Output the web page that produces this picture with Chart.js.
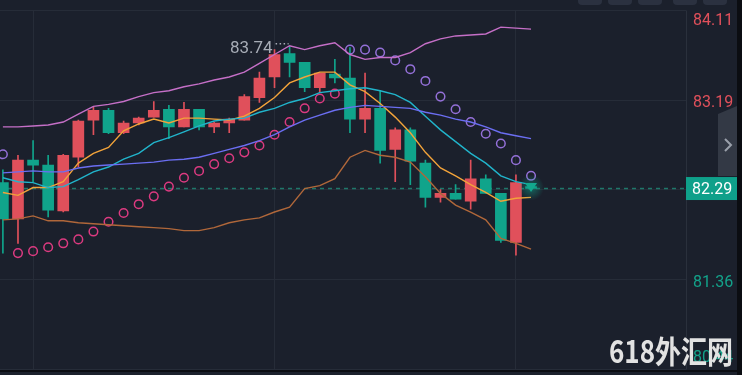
<!DOCTYPE html>
<html>
<head>
<meta charset="utf-8">
<script src="https://cdn.jsdelivr.net/npm/chart.js@4.4.1/dist/chart.umd.min.js"></script>
<style>
html, body { margin: 0; padding: 0; background: #1b202c; overflow: hidden; }
#wrap { position: relative; width: 742px; height: 375px; }
</style>
</head>
<body>
<div id="wrap"><canvas id="kChart" width="742" height="375"></canvas></div>
<script>
// candles (red = up, green = down)
const opens  = [82.35,81.98,82.58,82.53,82.06,82.61,82.99,83.09,82.86,82.96,83.02,83.10,82.92,83.10,82.92,82.96,82.99,83.22,83.43,83.67,83.58,83.32,83.46,83.42,83.00,83.11,82.69,82.89,82.55,82.20,82.24,82.16,82.39,82.24,81.74,82.31];
const highs  = [82.48,82.63,82.78,82.63,82.64,82.99,83.12,83.11,82.98,83.02,83.18,83.14,83.17,83.10,82.97,83.01,83.25,83.48,83.71,83.74,83.58,83.47,83.61,83.73,83.47,83.29,82.91,82.91,82.58,82.28,82.33,82.58,82.43,82.24,82.43,82.33];
const lows   = [81.63,81.73,82.36,82.00,82.05,82.51,82.84,82.85,82.85,82.94,83.02,82.80,82.92,82.89,82.86,82.86,82.99,83.17,83.32,83.43,83.28,83.27,83.37,82.86,82.86,82.55,82.36,82.33,82.10,82.15,82.18,82.08,82.24,81.74,81.61,82.28];
const closes = [81.98,82.58,82.53,82.07,82.63,82.98,83.09,82.86,82.96,83.01,83.09,82.92,83.10,82.92,82.96,83.00,83.23,83.42,83.66,83.58,83.32,83.47,83.42,83.00,83.11,82.68,82.89,82.57,82.20,82.24,82.18,82.39,82.24,81.76,82.35,82.29];

// indicator lines
const bollUpper = [82.92,82.92,82.93,82.94,82.97,83.05,83.13,83.15,83.18,83.23,83.27,83.29,83.33,83.36,83.40,83.43,83.48,83.57,83.66,83.75,83.71,83.75,83.78,83.66,83.61,83.63,83.63,83.68,83.77,83.82,83.85,83.86,83.87,83.94,83.93,83.92];
const bollLower = [81.97,81.98,82.01,81.96,81.96,81.94,81.93,81.92,81.91,81.90,81.89,81.88,81.86,81.86,81.89,81.94,81.97,81.99,82.05,82.10,82.29,82.32,82.39,82.61,82.68,82.63,82.61,82.56,82.41,82.24,82.12,82.05,81.97,81.78,81.73,81.67];
const maBlue    = [82.45,82.46,82.47,82.46,82.46,82.50,82.52,82.53,82.54,82.55,82.56,82.58,82.59,82.61,82.65,82.69,82.73,82.78,82.84,82.92,82.99,83.04,83.09,83.12,83.14,83.13,83.12,83.11,83.07,83.04,83.00,82.97,82.92,82.86,82.83,82.80];
const maCyan    = [82.40,82.36,82.35,82.30,82.31,82.38,82.46,82.51,82.59,82.65,82.76,82.81,82.87,82.93,82.98,83.00,83.01,83.07,83.11,83.17,83.21,83.27,83.29,83.31,83.32,83.29,83.25,83.17,83.03,82.89,82.77,82.65,82.55,82.42,82.36,82.33];
const maOrange  = [82.25,82.22,82.30,82.30,82.36,82.55,82.65,82.71,82.88,82.95,83.00,82.96,83.01,83.01,83.00,82.99,83.03,83.11,83.22,83.37,83.43,83.48,83.48,83.35,83.28,83.16,83.02,82.86,82.66,82.50,82.42,82.33,82.25,82.16,82.19,82.20];

// parabolic SAR
const sarBelow = [null,81.63,81.65,81.69,81.73,81.77,81.85,81.95,82.04,82.13,82.21,82.31,82.40,82.47,82.54,82.60,82.66,82.73,82.84,82.97,83.11,83.21,83.26,null,null,null,null,null,null,null,null,null,null,null,null,null];
const sarAbove = [82.64,null,null,null,null,null,null,null,null,null,null,null,null,null,null,null,null,null,null,null,null,null,null,83.71,83.71,83.68,83.60,83.51,83.39,83.23,83.10,82.97,82.85,82.75,82.58,82.42];

// price axis
const yTicks = [84.11, 83.1925, 82.275, 81.3575, 80.44];
const yTickLabels = ['84.11', '83.19', '82.28', '81.36', '80.44'];
const xGridAt = [2, 18, 34];
const lastPrice = 82.29;
const highIndex = 19;
const highText = '83.74';

const UP = '#e0505b';
const DOWN = '#10a48b';
const idx = opens.map((v, i) => i);
const candleColor = idx.map(i => closes[i] >= opens[i] ? UP : DOWN);
const pts = arr => arr.map((v, i) => ({ x: i, y: v }));

function lineSet(data, color) {
    return {
        type: 'line', data: pts(data), borderColor: color, borderWidth: 1.4,
        pointRadius: 0, tension: 0, order: 0, spanGaps: false
    };
}
function sarSet(data, color) {
    return {
        type: 'line', data: pts(data), showLine: false, borderColor: color,
        pointStyle: 'circle', pointRadius: 4.3, pointBorderWidth: 1.5,
        pointBackgroundColor: 'rgba(0,0,0,0)', pointBorderColor: color, order: 0
    };
}

const chromePlugin = {
    id: 'chrome',
    beforeDraw(chart) {
        const c = chart.ctx;
        c.save();
        c.fillStyle = '#1b202c';
        c.fillRect(0, 0, chart.width, chart.height);
        c.restore();
    },
    beforeDatasetsDraw(chart) {
        const c = chart.ctx, a = chart.chartArea, y = chart.scales.y.getPixelForValue(lastPrice);
        c.save();
        c.strokeStyle = '#1f776a';
        c.lineWidth = 1.5;
        c.setLineDash([4, 4]);
        c.beginPath();
        c.moveTo(a.left, y);
        c.lineTo(a.right, y);
        c.stroke();
        c.restore();
    },
    afterDatasetsDraw(chart) {
        const c = chart.ctx, xs = chart.scales.x, ys = chart.scales.y;
        // current price marker
        const mx = xs.getPixelForValue(closes.length - 1);
        const my = ys.getPixelForValue(lastPrice);
        c.save();
        const g = c.createRadialGradient(mx, my - 1, 0, mx, my - 1, 13);
        g.addColorStop(0, 'rgba(16,164,139,0.55)');
        g.addColorStop(1, 'rgba(16,164,139,0)');
        c.fillStyle = g;
        c.beginPath();
        c.arc(mx, my - 1, 13, 0, Math.PI * 2);
        c.fill();
        c.fillStyle = '#13a88e';
        c.beginPath();
        c.moveTo(mx - 6, my - 5.5);
        c.lineTo(mx + 6, my - 5.5);
        c.lineTo(mx, my + 3.5);
        c.closePath();
        c.fill();
        // high label
        const hx = xs.getPixelForValue(highIndex);
        const hy = ys.getPixelForValue(highs[highIndex]);
        c.font = '17px Roboto, "Noto Sans", sans-serif';
        c.fillStyle = '#a7acb6';
        c.textAlign = 'right';
        c.textBaseline = 'middle';
        c.fillText(highText, hx - 17, hy + 2);
        c.strokeStyle = '#a7acb6';
        c.lineWidth = 1.5;
        c.setLineDash([1.5, 2.5]);
        c.beginPath();
        c.moveTo(hx - 14, hy - 3);
        c.lineTo(hx - 1, hy - 3);
        c.stroke();
        c.restore();
    },
    afterDraw(chart) {
        const c = chart.ctx, a = chart.chartArea, ys = chart.scales.y;
        c.save();
        // plot border on the right
        c.strokeStyle = '#2a303c';
        c.lineWidth = 1;
        c.beginPath();
        c.moveTo(a.right + 0.5, a.top);
        c.lineTo(a.right + 0.5, a.bottom);
        c.stroke();
        // tick labels
        c.font = '16px Roboto, "Noto Sans", sans-serif';
        c.textAlign = 'left';
        c.textBaseline = 'middle';
        yTicks.forEach((v, i) => {
            if (Math.abs(v - lastPrice) < 0.1) return;
            const py = Math.min(Math.max(ys.getPixelForValue(v) + 3, 21), 358);
            c.fillStyle = v > lastPrice ? '#e0505b' : '#13a28a';
            c.fillText(yTickLabels[i], a.right + 7, py);
        });
        // current price box
        const py = ys.getPixelForValue(lastPrice);
        c.fillStyle = '#0fa08a';
        c.fillRect(a.right, py - 11.5, 51, 23);
        c.fillStyle = '#ffffff';
        c.font = '16px Roboto, "Noto Sans", sans-serif';
        c.fillText(lastPrice.toFixed(2), a.right + 6, py + 1);
        // side tab
        c.fillStyle = '#333945';
        c.beginPath();
        c.moveTo(chart.width - 24, 114);
        c.lineTo(chart.width - 5, 106);
        c.lineTo(chart.width - 5, 176);
        c.lineTo(chart.width - 24, 176);
        c.closePath();
        c.fill();
        c.strokeStyle = '#9aa0aa';
        c.lineWidth = 2;
        c.beginPath();
        c.moveTo(chart.width - 17, 139);
        c.lineTo(chart.width - 11, 145);
        c.lineTo(chart.width - 17, 151);
        c.stroke();
        // top buttons
        c.fillStyle = '#2b3140';
        [578, 608, 638, 673, 703].forEach(bx => {
            c.beginPath();
            c.roundRect(bx, -6, 24, 11, 4);
            c.fill();
        });
        // right strip and bottom line
        c.fillStyle = '#0b0d12';
        c.fillRect(chart.width - 5, 0, 5, chart.height);
        c.fillRect(0, a.bottom + 0.5, chart.width, 2);
        // watermark
        c.fillStyle = '#e2e2e2';
        c.font = 'bold 31px "Noto Sans CJK SC", sans-serif';
        c.textAlign = 'left';
        c.textBaseline = 'alphabetic';
        const wm = '618外汇网';
        const w = c.measureText(wm).width;
        c.translate(609, 363);
        c.scale(124 / w, 1);
        c.fillText(wm, 0, 0);
        c.restore();
    }
};

new Chart(document.getElementById('kChart'), {
    data: {
        datasets: [
            lineSet(bollUpper, '#c56fc7'),
            lineSet(bollLower, '#b0673a'),
            lineSet(maBlue, '#6b6ef2'),
            lineSet(maCyan, '#21b4cb'),
            lineSet(maOrange, '#f2a33a'),
            sarSet(sarBelow, '#dc3a80'),
            sarSet(sarAbove, '#9470d8'),
            {
                type: 'bar', order: 2, grouped: false, barThickness: 1,
                data: idx.map(i => ({ x: i, y: [lows[i], highs[i]] })),
                backgroundColor: candleColor
            },
            {
                type: 'bar', order: 1, grouped: false, barThickness: 11, minBarLength: 1,
                data: idx.map(i => ({ x: i, y: [opens[i], closes[i]] })),
                backgroundColor: candleColor
            }
        ]
    },
    options: {
        responsive: false,
        animation: false,
        devicePixelRatio: 1,
        layout: { autoPadding: false, padding: { left: 0, top: 10.5, right: 56, bottom: 5.5 } },
        plugins: { legend: { display: false }, tooltip: { enabled: false } },
        scales: {
            x: {
                type: 'linear', min: -0.192, max: 45.27, offset: false,
                ticks: { display: false },
                grid: { color: '#262c38', drawTicks: false, offset: false },
                border: { display: false },
                afterBuildTicks: s => { s.ticks = xGridAt.map(v => ({ value: v })); }
            },
            y: {
                type: 'linear', position: 'right', min: 80.44, max: 84.11,
                ticks: { display: false },
                grid: { color: '#262c38', drawTicks: false },
                border: { display: false },
                afterBuildTicks: s => { s.ticks = yTicks.map(v => ({ value: v })); }
            }
        }
    },
    plugins: [chromePlugin]
});
</script>
</body>
</html>
